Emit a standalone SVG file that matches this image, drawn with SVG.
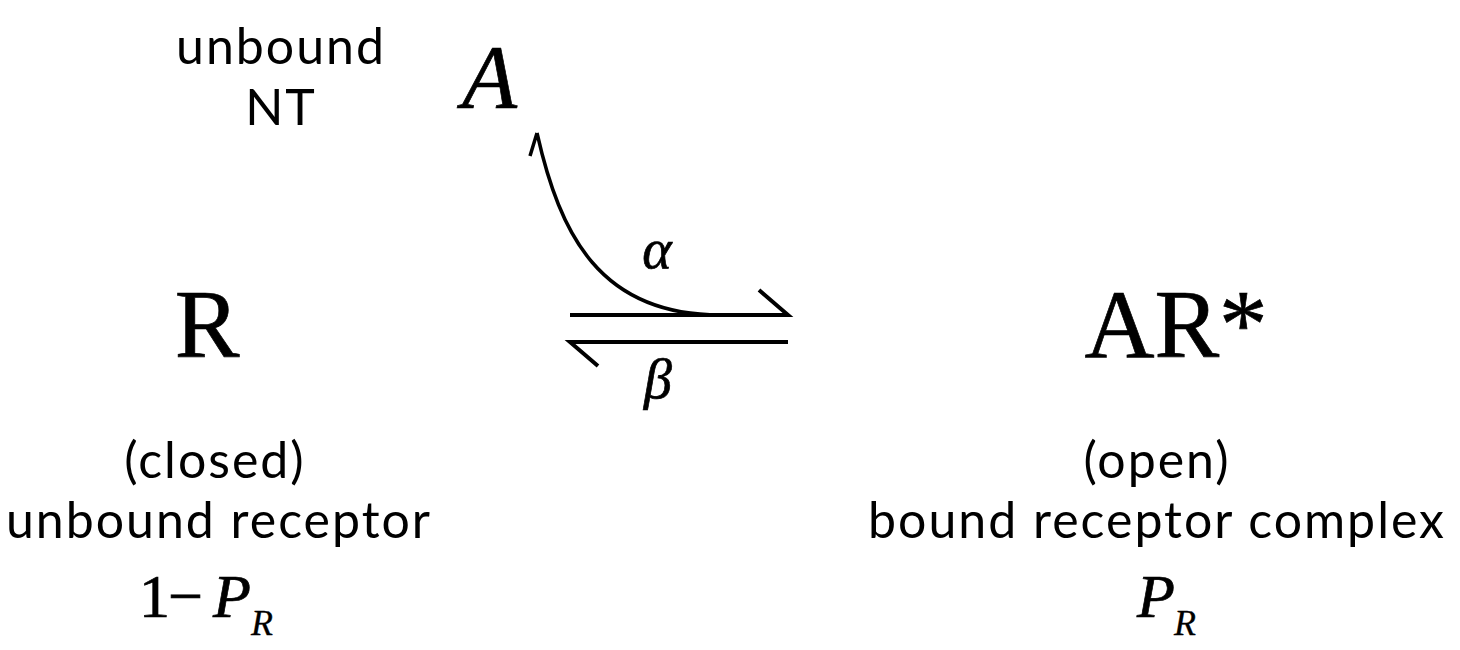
<svg xmlns="http://www.w3.org/2000/svg" width="1460" height="650" viewBox="0 0 1460 650">
<style>
.sans{font-family:"Lato","Noto Sans",sans-serif;font-size:50px;letter-spacing:2px;fill:#000;text-anchor:middle}
.ser{font-family:"Liberation Serif","DejaVu Serif",serif;fill:#000;stroke:#000;stroke-width:0.7}
.it{font-style:italic}
.sub{stroke-width:0.3}
.ln{stroke:#000;fill:none}
</style>
<rect width="1460" height="650" fill="#fff"/>
<g id="node-A">
<text class="sans" x="281" y="64">unbound</text>
<text class="sans" x="281" y="125">NT</text>
<text class="ser it" x="462" y="108" font-size="90">A</text>
</g>
<g id="node-R">
<text class="ser" x="207" y="357" font-size="97" text-anchor="middle">R</text>
<text class="sans" x="215" y="478">(closed)</text>
<text class="sans" x="219" y="538">unbound receptor</text>
<text class="ser" x="139" y="617" font-size="62">1</text>
<text class="ser" x="168" y="617" font-size="62">−</text>
<text class="ser it" x="213" y="617" font-size="62">P</text>
<text class="ser it sub" x="251" y="635" font-size="36">R</text>
</g>
<g id="node-AR">
<text class="ser" x="1176" y="357" font-size="97" text-anchor="middle">AR*</text>
<text class="sans" x="1157" y="478">(open)</text>
<text class="sans" x="1157" y="538">bound receptor complex</text>
<text class="ser it" x="1137" y="617" font-size="62">P</text>
<text class="ser it sub" x="1174" y="635" font-size="36">R</text>
</g>
<g id="connectors">
<path class="ln" stroke-width="4" d="M570 315 H788 L759 290"/>
<path class="ln" stroke-width="4" d="M788 342 H570 L598 366"/>
<path class="ln" stroke-width="3.5" d="M720 315 C600 315 560 235 537 133 M537 133 L530 156"/>
<text class="ser it" x="657" y="268" font-size="56" text-anchor="middle">α</text>
<text class="ser it" x="658" y="398" font-size="56" text-anchor="middle">β</text>
</g>
</svg>
